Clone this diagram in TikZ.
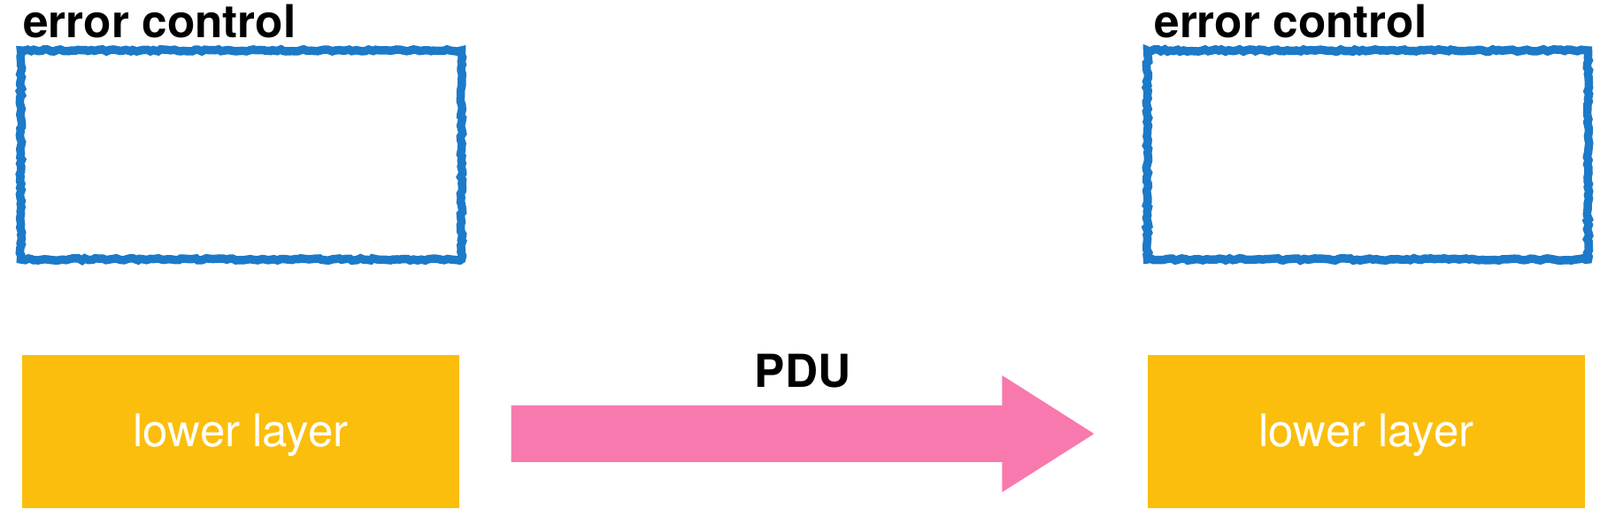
\documentclass[tikz,border=0pt]{standalone}
\usepackage{fontspec}
\setmainfont{TeX Gyre Heros}
\usetikzlibrary{positioning,calc,decorations.pathmorphing}
\definecolor{ecblue}{RGB}{28,122,200}
\definecolor{llyellow}{RGB}{251,190,12}
\definecolor{pdupink}{RGB}{248,121,174}

\begin{document}
\begin{tikzpicture}[font=\fontsize{14.5}{17}\selectfont,
    ecbox/.style={draw=ecblue,line width=0.095cm,minimum width=4.98cm,minimum height=2.36cm,inner sep=0pt,
      decorate,decoration={random steps,segment length=1.1pt,amplitude=0.35pt}},
    llbox/.style={fill=llyellow,minimum width=4.94cm,minimum height=1.73cm,inner sep=0pt,text=white,
      text height=0.35cm,text depth=0cm},
    title/.style={font=\fontsize{14.6}{17}\selectfont\bfseries,inner sep=0pt}]
\useasboundingbox (0,0) rectangle (18.08,5.84);
\node[ecbox] (ecL) at (2.725,4.09) {};
\node[ecbox] (ecR) at (15.455,4.09) {};
\node[title,anchor=base west] (tL) at ([xshift=0.07cm,yshift=0.10cm]ecL.north west) {error control};
\node[title,anchor=base west] (tR) at ([xshift=0.12cm,yshift=0.10cm]ecR.north west) {error control};
\node[llbox] (llL) at (2.72,0.965) {lower layer};
\node[llbox] (llR) at (15.44,0.965) {lower layer};
% block arrow between the two lower layers
\coordinate (aS) at ([xshift=0.58cm,yshift=-0.025cm]llL.east);
\coordinate (aE) at ([xshift=-0.60cm,yshift=-0.025cm]llR.west);
\fill[pdupink] ($(aS)+(0,0.32)$) -- ($(aE)+(-1.04,0.32)$) -- ($(aE)+(-1.04,0.66)$) -- (aE)
  -- ($(aE)+(-1.04,-0.66)$) -- ($(aE)+(-1.04,-0.32)$) -- ($(aS)+(0,-0.32)$) -- cycle;
\node[title,anchor=base] (pdu) at ($($(aS)!0.5!(aE)$)+(0,0.52)$) {PDU};
\end{tikzpicture}
\end{document}
